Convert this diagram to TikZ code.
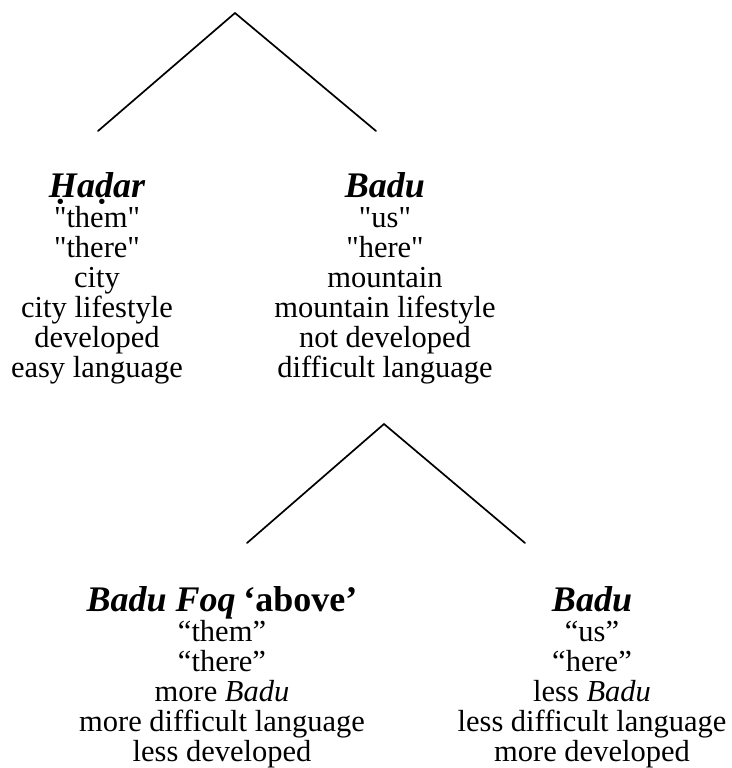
\documentclass[tikz,border=0pt]{standalone}
\usepackage{fontspec}
\setmainfont{Liberation Serif}[Ligatures=TeXOff]
\begin{document}
\begin{tikzpicture}[x=1pt,y=-1pt,
  branch/.style={line width=1.7pt, line cap=round, line join=miter},
  column/.style={align=center, anchor=base, inner sep=0pt,
    font=\fontsize{30.5}{30}\selectfont}]
\newcommand\headword[1]{{\fontsize{36}{30}\selectfont\bfseries\itshape #1}}
\useasboundingbox (0,0) rectangle (731,768);

% upper split: Hadar versus Badu (anchor = baseline of the last line)
\coordinate (top) at (235,13);
\coordinate (hadarend) at (98,131);
\coordinate (baduend) at (376,131);

\node[column] (hadar) at (97,377)
  {\headword{Ḥaḍar}\\"them"\\"there"\\city\\city lifestyle\\developed\\easy language};
\node[column] (badu) at (385,377)
  {\headword{Badu}\\"us"\\"here"\\mountain\\mountain lifestyle\\not developed\\difficult language};

% lower split of Badu
\coordinate (mid) at (384,424);
\coordinate (foqend) at (247,543);
\coordinate (baduend2) at (525,543);

\node[column] (foq) at (222,761)
  {\headword{Badu Foq} {\fontsize{36}{30}\selectfont\bfseries ‘above’}\\“them”\\“there”\\more \textit{Badu}\\more difficult language\\less developed};
\node[column] (badulow) at (592,761)
  {\headword{Badu}\\“us”\\“here”\\less \textit{Badu}\\less difficult language\\more developed};

\draw[branch] (hadarend) -- (top) -- (baduend);
\draw[branch] (foqend) -- (mid) -- (baduend2);
\end{tikzpicture}
\end{document}
